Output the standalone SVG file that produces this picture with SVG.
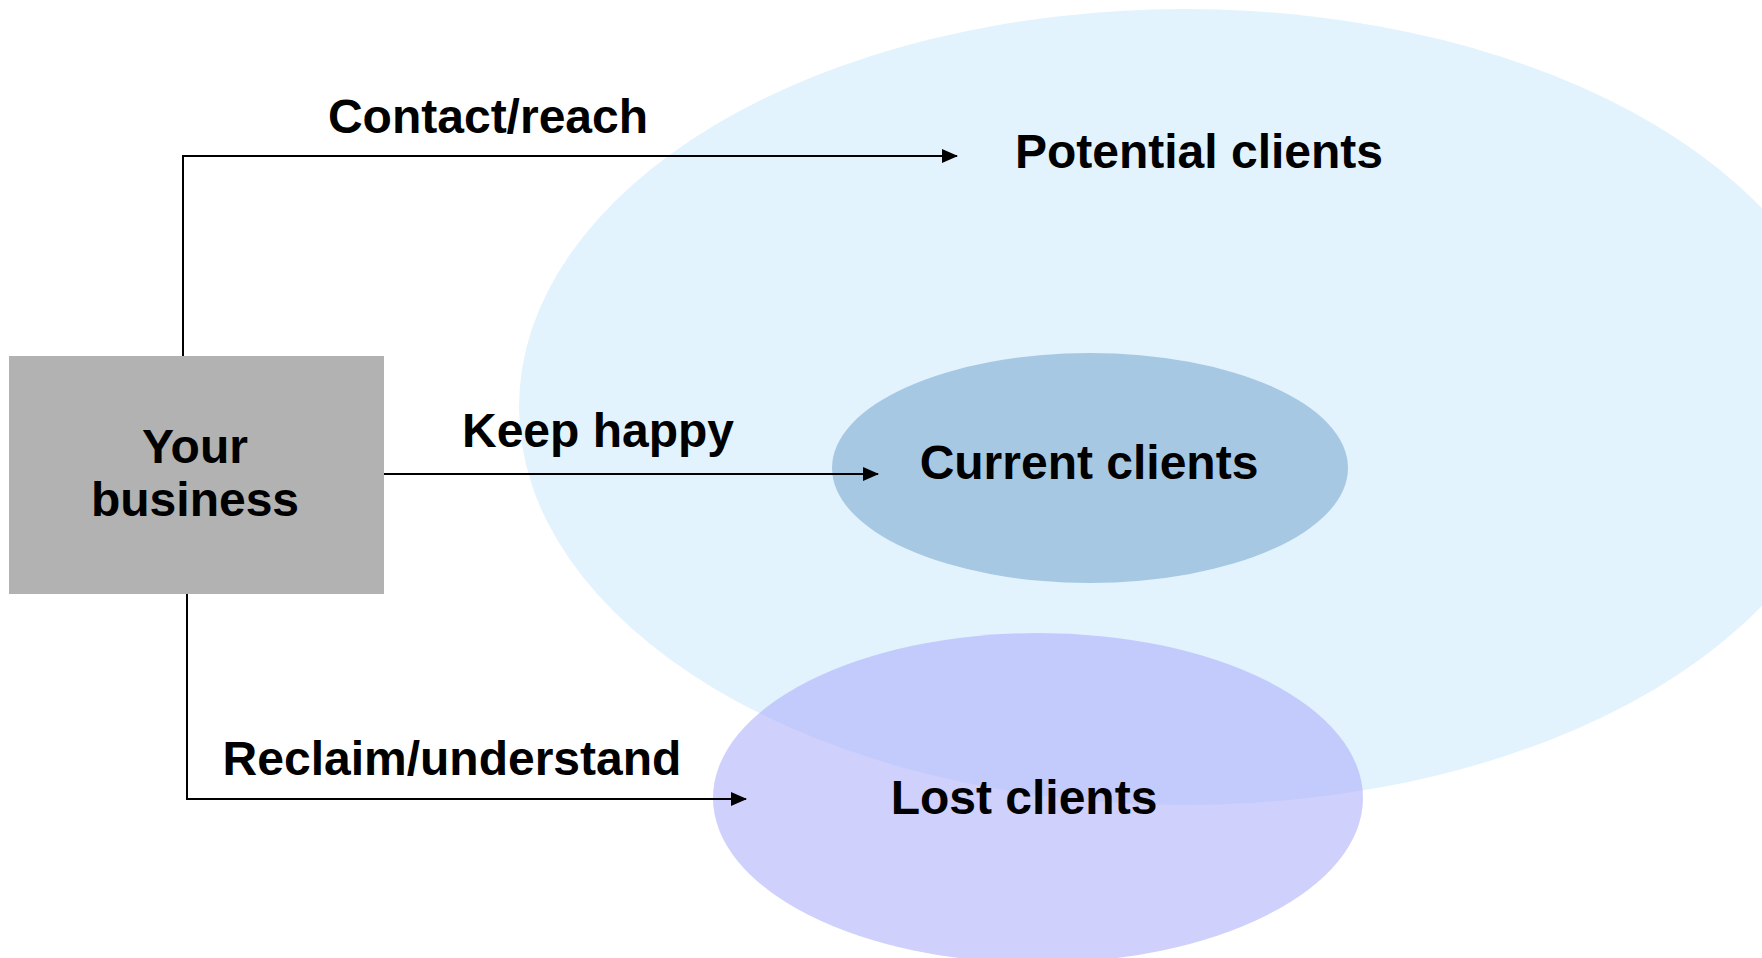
<svg xmlns="http://www.w3.org/2000/svg" width="1762" height="958" viewBox="0 0 1762 958">
<style>
.lbl{font-family:"Liberation Sans",Arial,sans-serif;font-weight:bold;font-size:48px;fill:#000}
.conn{fill:none;stroke:#000;stroke-width:2}
</style>
<defs>
<marker id="arr" markerWidth="16" markerHeight="14" refX="15" refY="7" orient="auto" markerUnits="userSpaceOnUse">
<path d="M0,0 L16,7 L0,14 Z" fill="#000"/>
</marker>
</defs>
<rect width="1762" height="958" fill="#fff"/>
<g id="potential">
<ellipse cx="1185" cy="407" rx="666" ry="398" fill="#E2F3FE"/>
<text class="lbl" x="1199" y="168" text-anchor="middle">Potential clients</text>
</g>
<g id="current">
<ellipse cx="1090" cy="468" rx="258" ry="115" fill="#A7C8E3"/>
<text class="lbl" x="1089" y="479" text-anchor="middle">Current clients</text>
</g>
<g id="lost">
<ellipse cx="1038" cy="798" rx="325" ry="165" fill="#AFB1FA" fill-opacity="0.6"/>
<text class="lbl" x="1024" y="814" text-anchor="middle">Lost clients</text>
</g>
<g id="business">
<rect x="9" y="356" width="375" height="238" fill="#B2B2B2"/>
<text class="lbl" x="195" y="463" text-anchor="middle">Your</text>
<text class="lbl" x="195" y="516" text-anchor="middle">business</text>
</g>
<g id="connectors">
<path class="conn" d="M183,356 V156 H957" marker-end="url(#arr)"/>
<path class="conn" d="M384,474 H878" marker-end="url(#arr)"/>
<path class="conn" d="M187,594 V799 H746" marker-end="url(#arr)"/>
<text class="lbl" x="488" y="133" text-anchor="middle">Contact/reach</text>
<text class="lbl" x="598" y="447" text-anchor="middle">Keep happy</text>
<text class="lbl" x="452" y="775" text-anchor="middle">Reclaim/understand</text>
</g>
</svg>
